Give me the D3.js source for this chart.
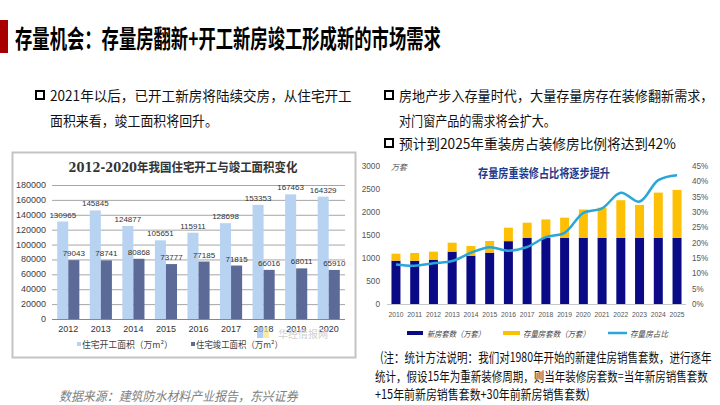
<!DOCTYPE html>
<html><head><meta charset="utf-8">
<script src="https://cdn.jsdelivr.net/npm/d3@7/dist/d3.min.js"></script>
<style>
html,body{margin:0;padding:0;background:#fff;}
svg{display:block;}
text{font-family:"Noto Sans CJK SC","Liberation Sans",sans-serif;}
</style></head>
<body>
<svg id="c" width="720" height="405"></svg>
<script>
// ---- Left chart data ----
const leftYears = ["2012","2013","2014","2015","2016","2017","2018","2019","2020"];
const startArea = [130965,145845,124877,105651,115911,128698,153353,167463,164329];
const completeArea = [79043,78741,80868,73777,77185,71815,66016,68011,65910];
const leftTicks = [0,20000,40000,60000,80000,100000,120000,140000,160000,180000];
const leftSeriesNames = ["住宅开工面积（万m²）","住宅竣工面积（万m²）"];

// ---- Right chart data ----
const rightYears = ["2010","2011","2012","2013","2014","2015","2016","2017","2018","2019","2020","2021","2022","2023","2024","2025"];
const newHomes = [942,940,964,1138,1051,1116,1366,1440,1440,1440,1440,1440,1440,1440,1440,1440];
const stockHomes = [152,169,174,195,210,254,293,328,398,437,614,654,816,715,982,1040];
const stockShare = [12.9,12.5,13.3,14.0,16.7,18.5,17.4,18.6,21.8,23.2,29.7,31.2,36.3,33.4,40.4,42.0];
const rightTicksL = [0,500,1000,1500,2000,2500,3000];
const rightTicksR = [0,5,10,15,20,25,30,35,40,45];
const rightSeriesNames = ["新房套数（万套）","存量房套数（万套）","存量房占比"];

const svg = d3.select("#c");

// place text at (x,y) and squeeze it horizontally so that it spans `len` px
function fitText(parent, x, y, len, t, opts){
  opts = opts || {};
  const g = parent.append("g");
  const el = g.append("text").attr("x",0).attr("y",0).attr("dominant-baseline","central")
    .attr("font-size",opts.size||14).attr("fill",opts.fill||"#111").text(t);
  if (opts.weight) el.attr("font-weight",opts.weight);
  if (opts.italic) el.attr("font-style","italic");
  if (opts.family) el.style("font-family",opts.family);
  if (opts.anchor) el.attr("text-anchor",opts.anchor);
  const w = el.node().getComputedTextLength();
  const s = w>0 ? len/w : 1;
  g.attr("transform",`translate(${x},${y}) scale(${s},1)`);
  return el;
}

// ---- Slide title ----
svg.append("rect").attr("x",0).attr("y",20).attr("width",8).attr("height",33).attr("fill","#a80000");
fitText(svg,15,37,426,"存量机会：存量房翻新+开工新房竣工形成新的市场需求",{size:25,weight:700,fill:"#000"});

// ---- Bullets ----
function box(x,y){
  svg.append("rect").attr("x",x).attr("y",y).attr("width",8).attr("height",8)
    .attr("fill","none").attr("stroke","#000").attr("stroke-width",2);
}
box(36,91);
fitText(svg,50,95,302,"2021年以后，已开工新房将陆续交房，从住宅开工");
fitText(svg,50,120,168,"面积来看，竣工面积将回升。");
box(385,91);
fitText(svg,399,95,315,"房地产步入存量时代，大量存量房存在装修翻新需求，");
fitText(svg,399,120,157,"对门窗产品的需求将会扩大。");
box(385,139);
fitText(svg,399,143,277,"预计到2025年重装房占装修房比例将达到42%");

// ---- Left chart ----
const L = svg.append("g");
L.append("rect").attr("x",12.5).attr("y",152.5).attr("width",343).attr("height",205)
  .attr("fill","#fff").attr("stroke","#c4c4c4").attr("stroke-width",2);
fitText(L,183,168,229,"2012-2020年我国住宅开工与竣工面积变化",
  {size:12.5,weight:700,fill:"#333",anchor:"middle",family:"'DejaVu Serif','Noto Sans CJK SC',serif"});

const lx = d3.scaleBand().domain(leftYears).range([52,345]).paddingInner(0.32).paddingOuter(0.16);
const ly = d3.scaleLinear().domain([0,180000]).range([319,185]);
const lsub = d3.scaleBand().domain([0,1]).range([0,lx.bandwidth()]);

L.selectAll(".lg").data(leftTicks).enter().append("line")
  .attr("x1",52).attr("x2",345).attr("y1",d=>ly(d)+0.5).attr("y2",d=>ly(d)+0.5)
  .attr("stroke",d=>d===0?"#888":"#a6a6a6").attr("stroke-width",1);
L.selectAll(".lt").data(leftTicks).enter().append("text")
  .attr("x",46).attr("y",d=>ly(d)).attr("text-anchor","end").attr("dominant-baseline","central")
  .attr("font-size",9).attr("fill","#404040").style("font-family","'Liberation Sans',sans-serif")
  .text(d=>d);

const leftSeries = [startArea, completeArea];
const leftColors = ["#b8d3f1","#5b6a96"];
leftSeries.forEach((vals,si)=>{
  L.selectAll(".lb"+si).data(vals).enter().append("rect")
    .attr("x",(d,i)=>lx(leftYears[i])+lsub(si)).attr("width",lsub.bandwidth())
    .attr("y",d=>ly(d)).attr("height",d=>ly(0)-ly(d)).attr("fill",leftColors[si]);
  L.selectAll(".ll"+si).data(vals).enter().append("text")
    .attr("x",(d,i)=>lx(leftYears[i])+lsub(si)+lsub.bandwidth()/2).attr("y",d=>ly(d)-4)
    .attr("text-anchor","middle").attr("font-size",8).attr("fill","#333")
    .style("font-family","'Liberation Sans',sans-serif").text(d=>d);
});
L.selectAll(".lxl").data(leftYears).enter().append("text")
  .attr("x",d=>lx(d)+lx.bandwidth()/2).attr("y",329).attr("text-anchor","middle").attr("dominant-baseline","central")
  .attr("font-size",9).attr("fill","#333").style("font-family","'Liberation Sans',sans-serif").text(d=>d);

// watermark
L.append("rect").attr("x",257).attr("y",327).attr("width",6).attr("height",11).attr("fill","#8fb8ee").attr("opacity",0.7);
L.append("rect").attr("x",263).attr("y",327).attr("width",6).attr("height",11).attr("fill","#f5e08a").attr("opacity",0.7);
L.append("text").attr("x",278).attr("y",333).attr("dominant-baseline","central").attr("font-size",10)
  .attr("fill","#d0d0d0").text("华经情报网");

// left legend
[[78,82,91],[192,196,87]].forEach((p,i)=>{
  L.append("rect").attr("x",p[0]-1).attr("y",342).attr("width",4).attr("height",4).attr("fill",leftColors[i]);
  fitText(L,p[1],344,p[2],leftSeriesNames[i],{size:9,fill:"#444"});
});

fitText(svg,59,396,239,"数据来源：建筑防水材料产业报告，东兴证券",{size:13,italic:true,fill:"#808080"});

// ---- Right chart ----
const R = svg.append("g");
const rx = d3.scaleBand().domain(rightYears).range([386.6,686.4]).paddingInner(0.52).paddingOuter(0.26);
const ryL = d3.scaleLinear().domain([0,3000]).range([304,166]);
const ryR = d3.scaleLinear().domain([0,45]).range([304,166]);

rightTicksL.forEach(d=>{
  fitText(R,380,ryL(d),String(d).length*4.6,String(d),{size:9,fill:"#555",anchor:"end",family:"'Liberation Sans',sans-serif"});
});
rightTicksR.forEach(d=>{
  fitText(R,692,ryR(d),String(d).length*4.6+7,d+"%",{size:9,fill:"#555",family:"'Liberation Sans',sans-serif"});
});
R.append("text").attr("x",391).attr("y",166).attr("dominant-baseline","central")
  .attr("font-size",8).attr("font-style","italic").attr("fill","#555").text("万套");

R.append("line").attr("x1",387).attr("x2",686).attr("y1",304.5).attr("y2",304.5).attr("stroke","#c8c8c8");

R.selectAll(".rn").data(newHomes).enter().append("rect")
  .attr("x",(d,i)=>rx(rightYears[i])).attr("width",rx.bandwidth())
  .attr("y",d=>ryL(d)).attr("height",d=>ryL(0)-ryL(d)).attr("fill","#0a0a86");
R.selectAll(".rs").data(stockHomes).enter().append("rect")
  .attr("x",(d,i)=>rx(rightYears[i])).attr("width",rx.bandwidth())
  .attr("y",(d,i)=>ryL(newHomes[i]+d)).attr("height",(d,i)=>ryL(newHomes[i])-ryL(newHomes[i]+d)).attr("fill","#fec004");

const line = d3.line().x((d,i)=>rx(rightYears[i])+rx.bandwidth()/2).y(d=>ryR(d)).curve(d3.curveCatmullRom.alpha(0.5));
R.append("path").datum(stockShare).attr("d",line).attr("fill","none").attr("stroke","#2aa6d8").attr("stroke-width",2.5);

rightYears.forEach(d=>{
  fitText(R,rx(d)+rx.bandwidth()/2,314,15,d,{size:8,fill:"#555",anchor:"middle",family:"'Liberation Sans',sans-serif"});
});

fitText(R,544,173,132,"存量房重装修占比将逐步提升",{size:12.5,weight:700,fill:"#1f3a8c",anchor:"middle"});

// right legend
R.append("rect").attr("x",407).attr("y",331).attr("width",16).attr("height",4).attr("fill","#0a0a86");
R.append("rect").attr("x",503).attr("y",331).attr("width",17).attr("height",4).attr("fill","#fec004");
R.append("line").attr("x1",608).attr("x2",627).attr("y1",333).attr("y2",333).attr("stroke","#2aa6d8").attr("stroke-width",2.5);
[[427,58],[523,67],[630,38]].forEach((p,i)=>{
  fitText(R,p[0],333,p[1],rightSeriesNames[i],{size:8,italic:true,fill:"#444"});
});

// note
fitText(svg,380,356,332,"(注：统计方法说明：我们对1980年开始的新建住房销售套数，进行逐年",{size:13});
fitText(svg,375,375,333,"统计，假设15年为重新装修周期，则当年装修房套数=当年新房销售套数",{size:13});
fitText(svg,375,393,215,"+15年前新房销售套数+30年前新房销售套数)",{size:13});
</script>
</body></html>
